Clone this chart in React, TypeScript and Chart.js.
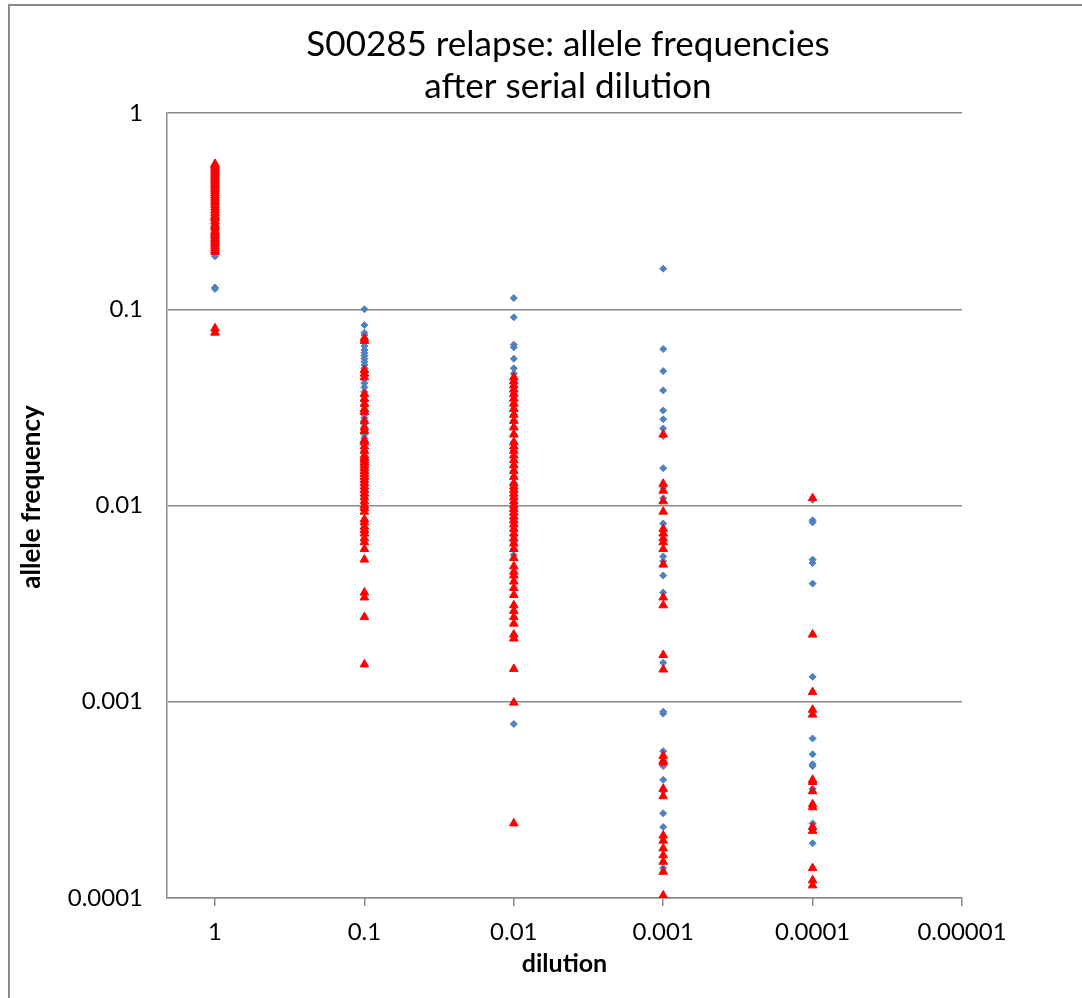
import { useEffect, useRef } from "react";
import { Chart, registerables } from "chart.js";

Chart.register(...registerables);

// ---------- data ----------
const titleLines = ["S00285 relapse: allele frequencies", "after serial dilution"];
const yAxisTitle = "allele frequency";
const xAxisTitle = "dilution";
const dilutions = [1, 0.1, 0.01, 0.001, 0.0001];
const xTickValues = [1, 0.1, 0.01, 0.001, 0.0001, 0.00001];
const xTickLabels = ["1", "0.1", "0.01", "0.001", "0.0001", "0.00001"];
const yTickValues = [1, 0.1, 0.01, 0.001, 0.0001];
const yTickLabels = ["1", "0.1", "0.01", "0.001", "0.0001"];

const blueAt1 = [0.51, 0.5, 0.49, 0.48, 0.47, 0.46, 0.45, 0.44, 0.43, 0.42, 0.41, 0.4, 0.39, 0.38, 0.37, 0.36, 0.35, 0.34, 0.33, 0.32, 0.31, 0.3, 0.29, 0.285, 0.28, 0.27, 0.26, 0.255, 0.25, 0.245, 0.24, 0.235, 0.23, 0.225, 0.22, 0.215, 0.21, 0.205, 0.2, 0.195, 0.19, 0.186, 0.129, 0.127, 0.077];
const blueAt01 = [0.1, 0.083, 0.076, 0.074, 0.071, 0.068, 0.065, 0.062, 0.06, 0.058, 0.056, 0.054, 0.052, 0.05, 0.048, 0.046, 0.044, 0.042, 0.04, 0.038, 0.036, 0.034, 0.032, 0.03, 0.029, 0.028, 0.027, 0.026, 0.025, 0.024, 0.023, 0.022, 0.021, 0.019, 0.017, 0.015, 0.013, 0.012, 0.011, 0.01];
const blueAt001 = [0.114, 0.091, 0.066, 0.064, 0.056, 0.05, 0.047, 0.044, 0.042, 0.04, 0.037, 0.035, 0.033, 0.031, 0.029, 0.027, 0.025, 0.023, 0.021, 0.019, 0.017, 0.016, 0.015, 0.014, 0.013, 0.012, 0.011, 0.01, 0.0095, 0.009, 0.0085, 0.008, 0.0075, 0.007, 0.0065, 0.006, 0.0056, 0.00077];
const blueAt0001 = [0.161, 0.0627, 0.0484, 0.0386, 0.0305, 0.0275, 0.0247, 0.0226, 0.0155, 0.0123, 0.0109, 0.0081, 0.0055, 0.0052, 0.0044, 0.0036, 0.00158, 0.00089, 0.00087, 0.00056, 0.00047, 0.0004, 0.00035, 0.00027, 0.00023, 0.000142];
const blueAt00001 = [0.0107, 0.0084, 0.0082, 0.0053, 0.0051, 0.004, 0.00134, 0.00065, 0.00054, 0.00048, 0.00047, 0.00036, 0.00024, 0.00019];

const redAt1 = [0.55, 0.54, 0.53, 0.52, 0.51, 0.5, 0.49, 0.48, 0.47, 0.46, 0.45, 0.44, 0.43, 0.42, 0.41, 0.4, 0.39, 0.38, 0.37, 0.36, 0.35, 0.34, 0.33, 0.32, 0.31, 0.3, 0.295, 0.29, 0.28, 0.27, 0.265, 0.26, 0.25, 0.245, 0.24, 0.235, 0.23, 0.225, 0.22, 0.215, 0.21, 0.205, 0.2, 0.196, 0.08, 0.076];
const redAt01 = [0.071, 0.069, 0.049, 0.047, 0.045, 0.037, 0.035, 0.033, 0.031, 0.03, 0.027, 0.025, 0.024, 0.0215, 0.021, 0.02, 0.019, 0.018, 0.0175, 0.017, 0.0165, 0.016, 0.0155, 0.015, 0.0145, 0.014, 0.0135, 0.013, 0.0125, 0.012, 0.0115, 0.011, 0.0105, 0.01, 0.0097, 0.0093, 0.0085, 0.0082, 0.0078, 0.0075, 0.0072, 0.0068, 0.0065, 0.006, 0.0053, 0.0036, 0.0034, 0.0027, 0.00155];
const redAt001 = [0.045, 0.043, 0.041, 0.039, 0.037, 0.035, 0.033, 0.031, 0.029, 0.027, 0.025, 0.023, 0.021, 0.02, 0.019, 0.018, 0.017, 0.016, 0.015, 0.014, 0.013, 0.0125, 0.012, 0.0115, 0.011, 0.0105, 0.01, 0.0096, 0.0092, 0.0088, 0.0084, 0.008, 0.0076, 0.0072, 0.0068, 0.0064, 0.006, 0.0054, 0.0049, 0.0046, 0.0044, 0.0041, 0.0038, 0.0035, 0.0031, 0.0029, 0.0027, 0.0025, 0.0022, 0.0021, 0.00147, 0.00099, 0.00024];
const redAt0001 = [0.023, 0.0129, 0.0119, 0.0105, 0.0093, 0.0076, 0.0072, 0.0068, 0.0065, 0.006, 0.005, 0.0034, 0.0031, 0.00173, 0.00146, 0.00053, 0.0005, 0.00049, 0.00036, 0.00033, 0.000208, 0.000196, 0.000179, 0.000165, 0.000153, 0.000136, 0.000103];
const redAt00001 = [0.0109, 0.0022, 0.00112, 0.00091, 0.00086, 0.0004, 0.00039, 0.00035, 0.0003, 0.00029, 0.00023, 0.00022, 0.000142, 0.000123, 0.000116];

const blueGroups = [blueAt1, blueAt01, blueAt001, blueAt0001, blueAt00001];
const redGroups = [redAt1, redAt01, redAt001, redAt0001, redAt00001];

function toPoints(groups: number[][]) {
  return groups.flatMap((vals, i) => vals.map((v) => ({ x: dilutions[i], y: v })));
}

function labelFor(values: number[], labels: string[], v: number) {
  const idx = values.findIndex((t) => Math.abs(Math.log10(t) - Math.log10(v)) < 1e-6);
  return idx >= 0 ? labels[idx] : "";
}

const FONT = "Lato, 'Noto Sans', sans-serif";
const GRID = "#8a8a8a";

const textPlugin = {
  id: "chartTexts",
  afterDraw(chart: any) {
    const ctx = chart.ctx;
    ctx.save();
    ctx.fillStyle = "#000";
    ctx.textAlign = "center";
    ctx.textBaseline = "middle";
    ctx.font = `35px ${FONT}`;
    titleLines.forEach((t, i) => ctx.fillText(t, 558, 39 + i * 42));
    ctx.translate(22, 491);
    ctx.rotate(-Math.PI / 2);
    ctx.font = `bold 26px ${FONT}`;
    ctx.fillText(yAxisTitle, 0, 0);
    ctx.restore();
  },
};

export default function App() {
  const ref = useRef<HTMLCanvasElement | null>(null);

  useEffect(() => {
    if (!ref.current) return;
    const chart = new Chart(ref.current, {
      type: "scatter",
      data: {
        datasets: [
          {
            label: "Series 1",
            data: toPoints(blueGroups),
            order: 2,
            pointStyle: "rectRot",
            pointRadius: 3.5,
            backgroundColor: "#4F81BD",
            borderColor: "#4F81BD",
            borderWidth: 1,
          },
          {
            label: "Series 2",
            data: toPoints(redGroups),
            order: 1,
            pointStyle: "triangle",
            pointRadius: 5,
            backgroundColor: "#FF0000",
            borderColor: "#FF0000",
            borderWidth: 1,
          },
        ],
      },
      options: {
        responsive: false,
        animation: false,
        events: [],
        layout: { padding: { top: 107, right: 108, left: 0, bottom: 0 } },
        plugins: {
          legend: { display: false },
          title: { display: false },
          tooltip: { enabled: false },
        },
        scales: {
          x: {
            type: "logarithmic",
            reverse: true,
            min: 0.00001,
            max: 2.096,
            afterBuildTicks: (scale: any) => {
              scale.ticks = xTickValues.map((v) => ({ value: v }));
            },
            afterFit: (scale: any) => {
              scale.height = 92;
            },
            border: { display: true, color: GRID, width: 1.5 },
            grid: { drawOnChartArea: false, drawTicks: true, tickLength: 8, color: GRID, lineWidth: 1.5 },
            ticks: {
              autoSkip: false,
              maxRotation: 0,
              padding: 12,
              color: "#000",
              font: { family: FONT, size: 24 },
              callback: (v: any) => labelFor(xTickValues, xTickLabels, Number(v)),
            },
            title: {
              display: true,
              text: xAxisTitle,
              color: "#000",
              font: { family: FONT, size: 25, weight: "bold" },
              padding: { top: 0, bottom: 11 },
            },
          },
          y: {
            type: "logarithmic",
            min: 0.0001,
            max: 1,
            afterBuildTicks: (scale: any) => {
              scale.ticks = yTickValues.map((v) => ({ value: v }));
            },
            afterFit: (scale: any) => {
              scale.width = 157;
            },
            border: { display: true, color: GRID, width: 1.5 },
            grid: { drawTicks: false, color: GRID, lineWidth: 1.5 },
            ticks: {
              padding: 24,
              color: "#000",
              font: { family: FONT, size: 24 },
              callback: (v: any) => labelFor(yTickValues, yTickLabels, Number(v)),
            },
          },
        },
      },
      plugins: [textPlugin],
    });
    return () => chart.destroy();
  }, []);

  return (
    <div
      style={{
        position: "absolute",
        top: 4,
        left: 8,
        width: 1072,
        height: 992,
        borderLeft: "2px solid #8a8a8a",
        borderTop: "2px solid #8a8a8a",
        background: "#fff",
      }}
    >
      <canvas ref={ref} width={1060} height={984} style={{ display: "block" }} />
    </div>
  );
}
